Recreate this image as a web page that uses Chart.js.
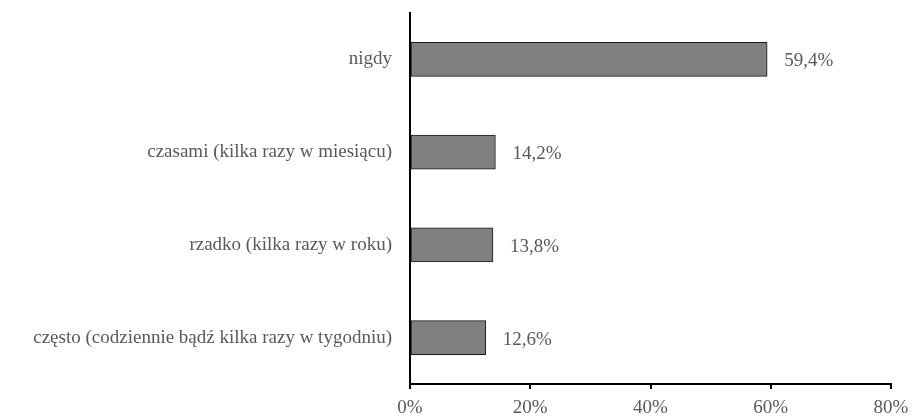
<!DOCTYPE html>
<html>
<head>
<meta charset="utf-8">
<script src="https://cdn.jsdelivr.net/npm/chart.js@4/dist/chart.umd.min.js"></script>
<style>
  html, body { margin: 0; padding: 0; background: #ffffff; }
  #wrap { width: 918px; height: 417px; }
</style>
</head>
<body>
<div id="wrap"><canvas id="c" width="918" height="417"></canvas></div>
<script>
// Survey answers and their shares (percent)
const categories = [
  'nigdy',
  'czasami (kilka razy w miesiącu)',
  'rzadko (kilka razy w roku)',
  'często (codziennie bądź kilka razy w tygodniu)'
];
const shares = [59.4, 14.2, 13.8, 12.6];
const xTicks = [0, 20, 40, 60, 80];

const FONT = "'Liberation Serif', 'DejaVu Serif', serif";
const TEXT = '#595959';

const fmt = v => v.toFixed(1).replace('.', ',') + '%';

// Writes each bar's value just past its end
const valueLabels = {
  id: 'valueLabels',
  afterDatasetsDraw(chart) {
    const ctx = chart.ctx;
    const meta = chart.getDatasetMeta(0);
    ctx.save();
    ctx.font = '19px ' + FONT;
    ctx.fillStyle = TEXT;
    ctx.textAlign = 'left';
    ctx.textBaseline = 'middle';
    meta.data.forEach((bar, i) => {
      ctx.fillText(fmt(shares[i]), bar.x + 17, bar.y + 2);
    });
    ctx.restore();
  }
};

new Chart(document.getElementById('c'), {
  type: 'bar',
  data: {
    labels: categories,
    datasets: [{
      data: shares,
      backgroundColor: '#808080',
      borderColor: '#1a1a1a',
      borderWidth: 1,
      borderSkipped: false,
      barThickness: 34
    }]
  },
  options: {
    indexAxis: 'y',
    responsive: false,
    devicePixelRatio: 1,
    animation: false,
    layout: { padding: { top: 13, right: 27, bottom: 0, left: 0 } },
    plugins: { legend: { display: false }, tooltip: { enabled: false } },
    scales: {
      x: {
        min: 0,
        max: 80,
        afterBuildTicks(scale) { scale.ticks = xTicks.map(v => ({ value: v })); },
        afterFit(scale) { scale.height = 33; },
        grid: { drawOnChartArea: false, drawTicks: true, tickLength: 5, color: '#000000', lineWidth: 2 },
        border: { display: true, color: '#000000', width: 2 },
        ticks: {
          color: TEXT,
          font: { family: FONT, size: 19 },
          padding: 8,
          maxRotation: 0,
          callback: v => v + '%'
        }
      },
      y: {
        afterFit(scale) {
          scale.width = 410;
          scale.paddingTop = 0;
          scale.paddingBottom = 0;
        },
        grid: { display: false, drawTicks: false },
        border: { display: true, color: '#000000', width: 2 },
        ticks: {
          color: TEXT,
          font: { family: FONT, size: 19 },
          padding: 18
        }
      }
    }
  },
  plugins: [valueLabels]
});
</script>
</body>
</html>
